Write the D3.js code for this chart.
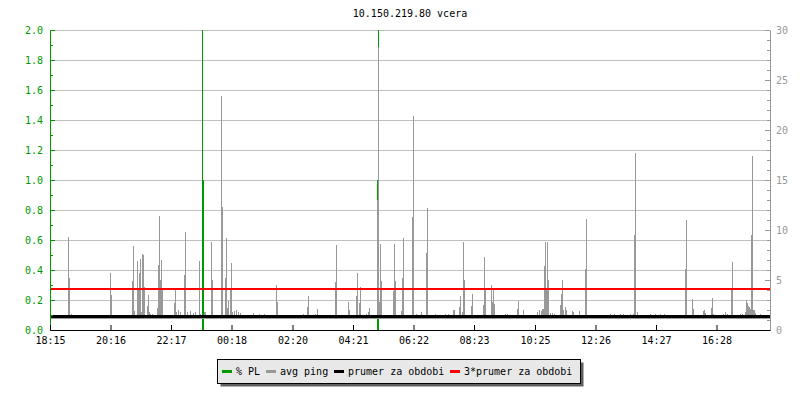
<!DOCTYPE html>
<html lang="en">
<head>
  <meta charset="UTF-8">
  <title>10.150.219.80 vcera</title>
  <script src="https://d3js.org/d3.v7.min.js"></script>
  <style>
    body { margin: 0; background: #fff; }
    text { font-family: "DejaVu Sans Mono", monospace; font-size: 10px; }
  </style>
</head>
<body>
<svg id="chart" width="800" height="400"></svg>
<script>
// x tick labels and their offsets in minutes from 18:15
const timeLabels = ["18:15", "20:16", "22:17", "00:18", "02:20", "04:21", "06:22", "08:23", "10:25", "12:26", "14:27", "16:28"];
const tickMinutes = [0, 121, 242, 363, 485, 606, 727, 848, 970, 1091, 1212, 1333];

const leftTicks = [0, 0.2, 0.4, 0.6, 0.8, 1.0, 1.2, 1.4, 1.6, 1.8, 2.0];
const rightTicks = [0, 5, 10, 15, 20, 25, 30];

// avg ping (ms), [minute, value] – everything else sits on the floor value
const pingFloor = 1.15;
const pingSpikes = [
  [36, 9.27], [38, 5.17], [42, 1.6],
  [120, 5.67], [122, 3.5],
  [164, 4.9], [166, 8.4], [168, 1.9],
  [174, 6.9], [176, 4.0], [178, 5.73], [180, 7.1], [182, 1.8], [184, 7.6], [186, 7.5], [188, 4.27],
  [194, 2.4], [196, 3.5], [198, 1.8], [200, 1.6], [204, 1.6],
  [214, 2.23], [216, 6.5], [218, 11.4], [220, 5.0], [222, 7.0], [224, 4.17],
  [248, 2.67], [250, 4.17], [252, 1.8], [256, 2.0], [260, 1.8],
  [268, 5.5], [270, 9.83], [274, 1.8], [280, 1.9], [286, 1.7], [290, 1.8],
  [298, 6.9], [300, 1.6], [308, 1.8], [310, 1.8],
  [322, 8.83], [324, 5.0],
  [342, 23.4], [344, 12.27],
  [350, 5.17], [352, 9.17], [354, 2.17], [356, 2.9],
  [360, 4.0], [362, 6.73], [364, 1.8], [368, 1.9], [372, 2.0], [376, 1.8], [380, 1.7],
  [406, 1.7], [418, 1.6], [428, 1.6],
  [452, 4.5], [454, 2.83], [488, 1.5],
  [506, 1.6], [514, 2.33], [516, 3.4], [530, 1.6], [534, 2.1],
  [570, 4.83], [572, 8.5],
  [596, 2.83], [598, 1.97],
  [612, 3.4], [614, 5.73], [618, 2.67], [620, 4.33],
  [632, 1.6], [636, 1.8], [638, 2.17],
  [654, 13.0], [656, 28.3], [658, 2.8], [660, 8.6], [662, 4.9],
  [686, 3.93], [688, 8.6], [690, 4.93],
  [702, 1.9], [704, 5.23], [706, 9.17],
  [724, 11.33], [726, 21.45], [732, 1.6], [742, 1.8],
  [752, 7.73], [754, 12.2],
  [770, 1.6], [790, 1.6], [796, 1.6],
  [806, 1.97], [808, 1.97],
  [818, 2.33], [820, 3.4], [824, 1.8], [826, 8.83], [828, 5.0],
  [842, 2.4], [844, 3.6],
  [866, 2.5], [868, 7.3], [870, 4.17],
  [882, 4.5], [884, 2.8], [886, 4.0], [888, 2.6],
  [910, 1.6], [914, 1.6], [934, 2.1], [936, 2.9], [946, 1.97],
  [974, 1.8], [978, 2.0], [982, 1.9], [984, 2.1], [986, 2.1],
  [988, 6.4], [990, 8.8], [992, 4.17], [994, 8.8], [996, 5.0],
  [1000, 1.67], [1004, 1.67], [1008, 1.6],
  [1020, 2.5], [1022, 3.6], [1024, 5.0], [1026, 2.0], [1030, 2.27], [1032, 2.0],
  [1044, 1.9], [1046, 1.8], [1058, 1.9],
  [1070, 6.1], [1072, 11.1],
  [1120, 1.6], [1128, 1.6], [1140, 1.6], [1146, 1.6], [1160, 1.6], [1166, 1.6],
  [1168, 9.5], [1170, 17.7], [1174, 1.8],
  [1200, 1.6], [1210, 1.6], [1220, 1.6], [1228, 1.6],
  [1270, 6.13], [1272, 11.0],
  [1284, 3.1], [1286, 2.1],
  [1306, 1.93], [1308, 2.0], [1310, 1.7],
  [1322, 2.23], [1324, 3.2], [1326, 1.6],
  [1346, 1.6], [1350, 1.8], [1354, 1.6],
  [1362, 4.17], [1364, 6.8],
  [1380, 1.6], [1384, 1.6],
  [1390, 1.8], [1392, 3.0], [1394, 2.73], [1396, 2.4], [1398, 2.27], [1400, 2.07],
  [1402, 9.5], [1404, 17.4],
  [1406, 1.97], [1408, 1.97], [1410, 1.7], [1420, 1.6]
];

// % packet loss, [minute, value] – zero elsewhere
const plSpikes = [[304, 100], [306, 1.0], [654, 1.0], [656, 100]];

// average ping over the period (ms)
const meanPing = 1.38;

const legendItems = [
  {label: "% PL", color: "#009900"},
  {label: "avg ping", color: "#999999"},
  {label: "prumer za obdobi", color: "#000000"},
  {label: "3*prumer za obdobi", color: "#ff0000"}
];

const svg = d3.select("#chart");
const plotLeft = 50, plotRight = 770, plotTop = 30, plotBottom = 330;

const x = d3.scaleLinear().domain([0, 1440]).range([plotLeft, plotRight]);
const yL = d3.scaleLinear().domain([0, 2]).range([plotBottom, plotTop]);
const yR = d3.scaleLinear().domain([0, 30]).range([plotBottom, plotTop]);

svg.append("defs").append("clipPath").attr("id", "plot")
  .append("rect").attr("x", plotLeft).attr("y", plotTop)
  .attr("width", plotRight - plotLeft + 1).attr("height", plotBottom - plotTop);

// title
svg.append("text")
  .attr("x", (plotLeft + plotRight) / 2).attr("y", 17)
  .attr("text-anchor", "middle")
  .text("10.150.219.80 vcera");

// grid
svg.append("g")
  .selectAll("line")
  .data(leftTicks.filter(d => d > 0))
  .join("line")
    .attr("x1", plotLeft).attr("x2", plotRight)
    .attr("y1", d => yL(d) + 0.5).attr("y2", d => yL(d) + 0.5)
    .attr("stroke", "#c0c0c0")
    .attr("shape-rendering", "crispEdges");

const plot = svg.append("g").attr("clip-path", "url(#plot)");

// % PL impulses
plot.append("g")
  .selectAll("rect")
  .data(plSpikes)
  .join("rect")
    .attr("x", d => x(d[0]))
    .attr("y", d => yL(d[1]))
    .attr("width", 1)
    .attr("height", d => yL(0) - yL(d[1]))
    .attr("fill", "#009900")
    .attr("shape-rendering", "crispEdges");

// avg ping floor + spikes
plot.append("line")
  .attr("x1", x(0)).attr("x2", x(1440))
  .attr("y1", yR(pingFloor)).attr("y2", yR(pingFloor))
  .attr("stroke", "#999999")
  .attr("shape-rendering", "crispEdges");

plot.append("g")
  .selectAll("rect")
  .data(pingSpikes)
  .join("rect")
    .attr("x", d => x(d[0]))
    .attr("y", d => yR(d[1]))
    .attr("width", 1)
    .attr("height", d => yR(pingFloor) - yR(d[1]))
    .attr("fill", "#999999")
    .attr("shape-rendering", "crispEdges");

// mean and 3*mean
plot.append("line")
  .attr("x1", x(0)).attr("x2", x(1440))
  .attr("y1", yR(meanPing)).attr("y2", yR(meanPing))
  .attr("stroke", "#000").attr("stroke-width", 3)
  .attr("shape-rendering", "crispEdges");

plot.append("line")
  .attr("x1", x(0)).attr("x2", x(1440))
  .attr("y1", yR(3 * meanPing)).attr("y2", yR(3 * meanPing))
  .attr("stroke", "#ff0000").attr("stroke-width", 2)
  .attr("shape-rendering", "crispEdges");

// left axis (green)
svg.append("g")
  .attr("transform", `translate(${plotLeft},0)`)
  .attr("color", "#009900")
  .call(d3.axisLeft(yL).tickValues(leftTicks).tickFormat(d3.format(".1f"))
    .tickSizeInner(-5).tickSizeOuter(0).tickPadding(7));
svg.append("g")
  .attr("transform", `translate(${plotLeft},0)`)
  .attr("color", "#009900")
  .call(d3.axisLeft(yL).tickValues(d3.range(0.1, 2, 0.2)).tickFormat("")
    .tickSizeInner(-3).tickSizeOuter(0))
  .call(g => g.select(".domain").remove());

// right axis (gray)
svg.append("g")
  .attr("transform", `translate(${plotRight},0)`)
  .attr("color", "#999999")
  .call(d3.axisRight(yR).tickValues(rightTicks)
    .tickSizeInner(-5).tickSizeOuter(0).tickPadding(6));
svg.append("g")
  .attr("transform", `translate(${plotRight},0)`)
  .attr("color", "#999999")
  .call(d3.axisRight(yR).tickValues(d3.range(0, 31).filter(d => d % 5 !== 0)).tickFormat("")
    .tickSizeInner(-3).tickSizeOuter(0))
  .call(g => g.select(".domain").remove());

// bottom axis
svg.append("g")
  .attr("transform", `translate(0,${plotBottom})`)
  .attr("color", "#000")
  .call(d3.axisBottom(x).tickValues(tickMinutes).tickFormat((d, i) => timeLabels[i])
    .tickSizeInner(-5).tickSizeOuter(0).tickPadding(7));

svg.selectAll("text")
  .attr("font-family", "DejaVu Sans Mono, monospace")
  .attr("font-size", 10);

// legend
const lg = svg.append("g");
lg.append("rect")
  .attr("x", 220.5).attr("y", 362.5).attr("width", 363).attr("height", 24)
  .attr("fill", "#606060");
lg.append("rect")
  .attr("x", 217.5).attr("y", 359.5).attr("width", 363).attr("height", 24)
  .attr("fill", "#e8e8e8").attr("stroke", "#000");

let lx = 222;
legendItems.forEach(item => {
  lg.append("line")
    .attr("x1", lx).attr("x2", lx + 10)
    .attr("y1", 371.5).attr("y2", 371.5)
    .attr("stroke", item.color).attr("stroke-width", 3)
    .attr("shape-rendering", "crispEdges");
  lg.append("text")
    .attr("x", lx + 14).attr("y", 375)
    .attr("font-family", "DejaVu Sans Mono, monospace")
    .attr("font-size", 10)
    .text(item.label);
  lx += 14 + item.label.length * 6 + 6;
});
</script>
</body>
</html>
